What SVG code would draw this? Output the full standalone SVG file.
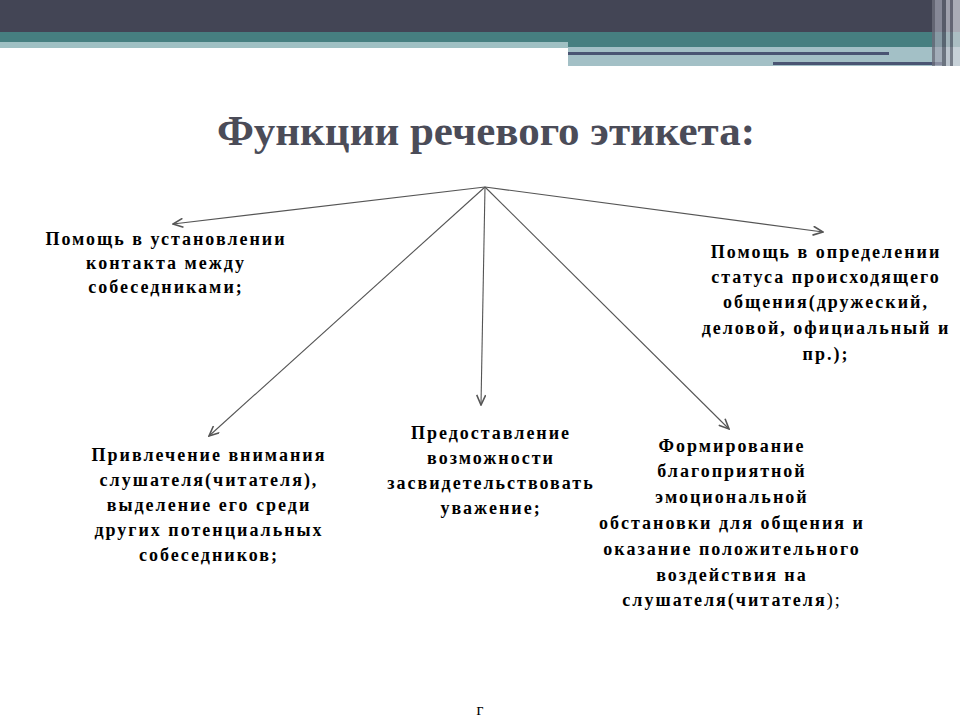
<svg xmlns="http://www.w3.org/2000/svg" width="960" height="720" viewBox="0 0 960 720">
<defs>
<marker id="ah" markerWidth="12" markerHeight="10" refX="11" refY="5" orient="auto" markerUnits="userSpaceOnUse">
<path d="M1,0.5 L11,5 L1,9.5" fill="none" stroke="#555" stroke-width="1.6"/>
</marker>
</defs>
<rect width="960" height="720" fill="#fff"/>
<g id="header">
<rect x="0" y="0" width="960" height="32" fill="#434555"/>
<rect x="0" y="32" width="960" height="10" fill="#467f80"/>
<rect x="0" y="42" width="568" height="6" fill="#9fc0c3"/>
<rect x="568" y="42" width="392" height="5" fill="#467f80"/>
<rect x="568" y="47" width="392" height="19" fill="#a3c0c6"/>
<rect x="568" y="52" width="321" height="3" fill="#4a5573"/>
<rect x="773" y="62" width="169" height="3" fill="#4a5573"/>
<rect x="932" y="0" width="3" height="66" fill="#6b6d7b" opacity="0.8"/>
<rect x="935" y="0" width="7" height="66" fill="#a3a5b3" opacity="0.7"/>
<rect x="942" y="0" width="4" height="66" fill="#5d5f6d" opacity="0.8"/>
<rect x="946" y="0" width="4" height="66" fill="#c6c8d2" opacity="0.7"/>
<rect x="950" y="0" width="3" height="66" fill="#6b6d7b" opacity="0.8"/>
<rect x="953" y="0" width="7" height="66" fill="#d6d8e0" opacity="0.7"/>
</g>
<g id="title">
<text font-family="Liberation Serif" font-weight="bold" font-size="43" fill="#4b4c58" text-anchor="middle" x="486" y="145">Функции речевого этикета:</text>
</g>
<g id="connectors" stroke="#555" stroke-width="1.1" fill="none">
<line x1="485" y1="187" x2="173" y2="224" marker-end="url(#ah)"/>
<line x1="485" y1="187" x2="823" y2="232" marker-end="url(#ah)"/>
<line x1="485" y1="187" x2="209" y2="436" marker-end="url(#ah)"/>
<line x1="485" y1="187" x2="481" y2="405" marker-end="url(#ah)"/>
<line x1="485" y1="187" x2="729" y2="429" marker-end="url(#ah)"/>
</g>
<g id="n1">
<text font-family="Liberation Serif" font-weight="bold" font-size="18" letter-spacing="2" text-anchor="middle" x="166" y="245">Помощь в установлении</text>
<text font-family="Liberation Serif" font-weight="bold" font-size="18" letter-spacing="2" text-anchor="middle" x="166" y="269">контакта между</text>
<text font-family="Liberation Serif" font-weight="bold" font-size="18" letter-spacing="2" text-anchor="middle" x="166" y="293">собеседниками;</text>
</g>
<g id="n2">
<text font-family="Liberation Serif" font-weight="bold" font-size="18" letter-spacing="2" text-anchor="middle" x="826" y="258">Помощь в определении</text>
<text font-family="Liberation Serif" font-weight="bold" font-size="18" letter-spacing="2" text-anchor="middle" x="826" y="283">статуса происходящего</text>
<text font-family="Liberation Serif" font-weight="bold" font-size="18" letter-spacing="2" text-anchor="middle" x="826" y="308">общения(дружеский,</text>
<text font-family="Liberation Serif" font-weight="bold" font-size="18" letter-spacing="2" text-anchor="middle" x="826" y="334">деловой, официальный и</text>
<text font-family="Liberation Serif" font-weight="bold" font-size="18" letter-spacing="2" text-anchor="middle" x="826" y="360">пр.);</text>
</g>
<g id="n3">
<text font-family="Liberation Serif" font-weight="bold" font-size="18" letter-spacing="2" text-anchor="middle" x="209" y="461">Привлечение внимания</text>
<text font-family="Liberation Serif" font-weight="bold" font-size="18" letter-spacing="2" text-anchor="middle" x="209" y="486">слушателя(читателя),</text>
<text font-family="Liberation Serif" font-weight="bold" font-size="18" letter-spacing="2" text-anchor="middle" x="209" y="511">выделение его среди</text>
<text font-family="Liberation Serif" font-weight="bold" font-size="18" letter-spacing="2" text-anchor="middle" x="209" y="536">других потенциальных</text>
<text font-family="Liberation Serif" font-weight="bold" font-size="18" letter-spacing="2" text-anchor="middle" x="209" y="561">собеседников;</text>
</g>
<g id="n4">
<text font-family="Liberation Serif" font-weight="bold" font-size="18" letter-spacing="2" text-anchor="middle" x="491" y="439">Предоставление</text>
<text font-family="Liberation Serif" font-weight="bold" font-size="18" letter-spacing="2" text-anchor="middle" x="491" y="464">возможности</text>
<text font-family="Liberation Serif" font-weight="bold" font-size="18" letter-spacing="2" text-anchor="middle" x="491" y="489">засвидетельствовать</text>
<text font-family="Liberation Serif" font-weight="bold" font-size="18" letter-spacing="2" text-anchor="middle" x="491" y="514">уважение;</text>
</g>
<g id="n5">
<text font-family="Liberation Serif" font-weight="bold" font-size="18" letter-spacing="2" text-anchor="middle" x="732" y="452">Формирование</text>
<text font-family="Liberation Serif" font-weight="bold" font-size="18" letter-spacing="2" text-anchor="middle" x="732" y="477">благоприятной</text>
<text font-family="Liberation Serif" font-weight="bold" font-size="18" letter-spacing="2" text-anchor="middle" x="732" y="503">эмоциональной</text>
<text font-family="Liberation Serif" font-weight="bold" font-size="18" letter-spacing="2" text-anchor="middle" x="732" y="529">обстановки для общения и</text>
<text font-family="Liberation Serif" font-weight="bold" font-size="18" letter-spacing="2" text-anchor="middle" x="732" y="555">оказание положительного</text>
<text font-family="Liberation Serif" font-weight="bold" font-size="18" letter-spacing="2" text-anchor="middle" x="732" y="581">воздействия на</text>
<text font-family="Liberation Serif" font-weight="bold" font-size="18" letter-spacing="2" text-anchor="middle" x="732" y="606">слушателя(читателя<tspan font-weight="normal">);</tspan></text>
</g>
<text x="480" y="715" font-family="Liberation Serif" font-size="17" text-anchor="middle" fill="#000">г</text>
</svg>
